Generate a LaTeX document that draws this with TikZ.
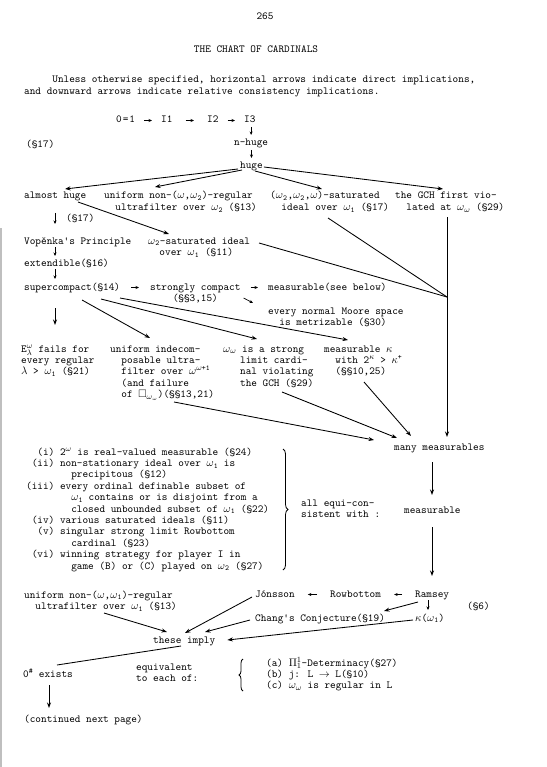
\documentclass[tikz,border=0pt]{standalone}
\usepackage{fontspec}
\usepackage{amssymb}
\usetikzlibrary{arrows.meta,decorations.pathreplacing}
\newcommand\chartfont{\ttfamily\fontsize{10.74pt}{11.4pt}\selectfont\addfontfeatures{FakeBold=1.2}}
% n character cells of the typewriter face
\newcommand\sk[1]{\hspace*{#1\dimexpr0.525em\relax}}
\newcommand\lo[1]{\textsubscript{#1}}
\newcommand\up[1]{\textsuperscript{#1}}
\newcommand\w{\ensuremath{\omega}}
\newcommand\kp{\ensuremath{\kappa}}
\newcommand\lm{\ensuremath{\lambda}}
% left-aligned lines whose baseline is that of the first line
\newcommand\stack[1]{\vtop{\halign{##\hfil\cr#1\crcr}}}
\tikzset{
  txt/.style={inner sep=0pt, anchor=base west, font=\chartfont},
  link/.style={line width=0.85pt, -{Stealth[length=5.5pt,width=4pt]}},
  tick/.style={line width=0.7pt, -{Stealth[length=3.5pt,width=3pt]}},
  trim/.style={shorten <=#1, shorten >=#1},
  plain/.style={line width=0.85pt},
  bracebar/.style={line width=0.8pt, decorate, decoration={brace, amplitude=#1}},
}
\begin{document}
\lineskiplimit=-20pt
\begin{tikzpicture}[x=1pt,y=-1pt]
\path[fill=white] (0,0) rectangle (546,767);
\useasboundingbox (0,0) rectangle (546,767);
% page edge
\draw[gray!50, line width=1.2pt] (1,228) -- (1,767);

% heading
\node[txt, anchor=base] (pgno) at (265,20) {265};
\node[txt, anchor=base] (title) at (256,53) {THE CHART OF CARDINALS};
\node[txt] (intro) at (24,83) {\stack{\sk{5}Unless otherwise specified, horizontal arrows indicate direct implications,\cr\noalign{\kern0.6pt}and downward arrows indicate relative consistency implications.}};

% top of the chart
\node[txt] (z01) at (116,123) {0\kern1pt=\kern1pt1};
\node[txt] (i1) at (161,123) {I1};
\node[txt] (i2) at (207,123) {I2};
\node[txt] (i3) at (244,123) {I3};
\node[txt] (nhuge) at (234,146) {n-huge};
\node[txt] (s17a) at (26,148) {(§17)};
\node[txt] (huge) at (240,169) {huge};

\draw[tick, trim=9pt] ([yshift=2.5pt]z01.base east) -- ([yshift=2.5pt]i1.base west);
\draw[tick, trim=13pt] ([yshift=2.5pt]i1.base east) -- ([yshift=2.5pt]i2.base west);
\draw[tick, trim=9pt] ([yshift=2.5pt]i2.base east) -- ([yshift=2.5pt]i3.base west);
\draw[tick] ([yshift=-4pt]nhuge.base |- i3.base) -- ([yshift=11pt]nhuge.base);
\draw[tick] ([yshift=-4pt]huge.base |- nhuge.base) -- ([yshift=11pt]huge.base);

% below huge
\node[txt] (ahuge) at (24,199) {almost huge};
\node[txt] (unw2) at (104,199) {\stack{uniform non-(\w,\w\lo{2})-regular\cr\sk{2}ultrafilter over \w\lo{2} (§13)}};
\node[txt] (sat) at (270,199) {\stack{(\w\lo{2},\w\lo{2},\w)-saturated\cr\sk{2}ideal over \w\lo{1} (§17)}};
\node[txt] (gch) at (395,199) {\stack{the GCH first vio-\cr\sk{2}lated at \w\lo{\w} (§29)}};

\draw[link] ([shift={(-2,0)}]huge.base west) -- ([shift={(41,-10)}]ahuge.base west);
\draw[link] ([shift={(2,1)}]huge.base west) -- ([shift={(51,-12)}]unw2.base west);
\draw[link] ([shift={(15,2)}]huge.base west) -- ([shift={(52,-10)}]sat.base west);
\draw[link] ([shift={(1,-2)}]huge.base east) -- ([shift={(48,-10)}]gch.base west);

\node[txt] (s17b) at (66,222) {(§17)};
\node[txt] (vop) at (24,244) {Vopěnka's Principle};
\node[txt] (w2sat) at (148,244) {\stack{\w\lo{2}-saturated ideal\cr\sk{2}over \w\lo{1} (§11)}};
\node[txt] (ext) at (24,266) {extendible(§16)};
\node[txt] (sc) at (24,290) {supercompact(§14)};
\node[txt] (strc) at (150,290) {\stack{strongly compact\cr\sk{4}(§§3,15)}};
\node[txt] (meas1) at (268,290) {measurable(see below)};
\node[txt] (moore) at (268,314) {\stack{every normal Moore space\cr\sk{2}is metrizable (§30)}};

\draw[tick] ([shift={(31,14)}]ahuge.base west) -- ([shift={(31,-20)}]vop.base west);
\draw[link] ([shift={(54,3)}]ahuge.base west) -- ([shift={(21,-10)}]w2sat.base west);
\draw[tick] ([shift={(31,3)}]vop.base west) -- ([shift={(31,-10)}]ext.base west);
\draw[tick] ([shift={(31,3)}]ext.base west) -- ([shift={(31,-11)}]sc.base west);
\draw[tick, trim=11pt] ([yshift=2.5pt]sc.base east) -- ([yshift=2.5pt]strc.base west);
\draw[tick, trim=10pt] ([yshift=2.5pt]strc.east |- sc.base) -- ([yshift=2.5pt]meas1.base west);
\draw[tick] ([shift={(3,8)}]strc.east |- sc.base) -- ([shift={(-15,-11)}]moore.base west);

% the right-hand trunk
\node[txt] (manym) at (394,450) {many measurables};
\coordinate (J) at (447,297);
\draw[link] ([shift={(52,18)}]gch.base west) -- ([shift={(53,-13)}]manym.base west);
\draw[plain] ([shift={(58,19)}]sat.base west) -- (J);
\draw[plain] ([shift={(111,-1)}]w2sat.base west) -- (J);

% consequences of supercompactness
\node[txt] (elam) at (21,352) {\stack{E$^\omega_\lambda$ fails for\cr every regular\cr \lm{} > \w\lo{1} (§21)}};
\node[txt] (uind) at (110,352) {\stack{uniform indecom-\cr\sk{2}posable ultra-\cr\sk{2}filter over \w\up{\w+1}\cr\sk{2}(and failure\cr\sk{2}of $\Box$\lo{\w\lo{\w}})(§§13,21)}};
\node[txt] (wstr) at (223,352) {\stack{\w\lo{\w} is a strong\cr\sk{3}limit cardi-\cr\sk{3}nal violating\cr\sk{3}the GCH (§29)}};
\node[txt] (mk) at (324,352) {\stack{measurable \kp\cr\sk{2}with 2\up{\kp} > \kp\up{+}\cr\sk{2}(§§10,25)}};

\draw[link] ([shift={(58,10)}]sc.base west) -- ([shift={(40,-14)}]uind.base west);
\draw[link] ([shift={(77,9)}]sc.base west) -- ([shift={(34,-13)}]wstr.base west);
\draw[link] ([shift={(96,8)}]sc.base west) -- ([shift={(24,-12)}]mk.base west);
\draw[link] ([shift={(31,18)}]sc.base west) -- ([shift={(34,-27)}]elam.base west);

\draw[link] ([shift={(64,50)}]uind.base west) -- ([shift={(-20,-10)}]manym.base west);
\draw[link] ([shift={(59,40)}]wstr.base west) -- ([shift={(3,-12)}]manym.base west);
\draw[link] ([shift={(40,30)}]mk.base west) -- ([shift={(17,-14)}]manym.base west);

% equiconsistency block
\node[txt] (list) at (26,455) {\stack{\sk{2}(i) 2\up{\w} is real-valued measurable (§24)\cr
\sk{1}(ii) non-stationary ideal over \w\lo{1} is\cr
\sk{8}precipitous (§12)\cr
(iii) every ordinal definable subset of\cr
\sk{8}\w\lo{1} contains or is disjoint from a\cr
\sk{8}closed unbounded subset of \w\lo{1} (§22)\cr
\sk{1}(iv) various saturated ideals (§11)\cr
\sk{2}(v) singular strong limit Rowbottom\cr
\sk{8}cardinal (§23)\cr
\sk{1}(vi) winning strategy for player I in\cr
\sk{8}game (B) or (C) played on \w\lo{2} (§27)}};
\draw[bracebar=5pt] (283,449) -- (283,570);
\node[txt] (equi) at (301,506) {\stack{all equi-con-\cr sistent with :}};
\node[txt] (meas2) at (404,513) {measurable};

% small large cardinals
\node[txt] (unw1) at (24,598) {\stack{uniform non-(\w,\w\lo{1})-regular\cr\sk{2}ultrafilter over \w\lo{1} (§13)}};
\node[txt] (jon) at (255,597) {Jónsson};
\node[txt] (rowb) at (330,597) {Rowbottom};
\node[txt] (ram) at (415,597) {Ramsey};
\node[txt] (s6) at (467,609) {(§6)};
\node[txt] (chang) at (255,621) {Chang's Conjecture(§19)};
\node[txt] (kap) at (415,621) {\kp(\w\lo{1})};
\node[txt] (these) at (153,643) {these imply};

\draw[link] ([shift={(38,12)}]manym.base west) -- ([shift={(28,-18)}]meas2.base west);
\draw[link] ([shift={(28,14)}]meas2.base west) -- ([shift={(17,-21)}]ram.base west);

\draw[tick, trim=13pt] ([yshift=2.5pt]rowb.base west) -- ([yshift=2.5pt]jon.base east);
\draw[tick, trim=13pt] ([yshift=2.5pt]ram.base west) -- ([yshift=2.5pt]rowb.base east);
\draw[tick] ([shift={(13,3)}]ram.base west) -- ([shift={(13,-11)}]kap.base west);
\draw[link] ([shift={(3,5)}]ram.base west) -- ([shift={(129,-10)}]chang.base west);
\draw[link] ([shift={(-3,0)}]jon.base west) -- ([shift={(32,-10)}]these.base west);
\draw[link] ([shift={(-5,-1)}]chang.base west) -- ([shift={(52,-11)}]these.base west);
\draw[link] ([shift={(-2,-1)}]kap.base west) -- ([shift={(12,-3)}]these.base east);
\draw[link] ([shift={(80,15)}]unw1.base west) -- ([shift={(14,-11)}]these.base west);

% zero sharp
\node[txt] (osharp) at (23,677) {0\up{\#} exists};
\node[txt] (equiv) at (136,670) {\stack{equivalent\cr to each of:}};
\draw[bracebar=4pt] (243,691) -- (243,659);
\node[txt] (abc) at (266,666) {\stack{(a) $\Pi^1_1$-Determinacy(§27)\cr(b) j: L $\rightarrow$ L(§10)\cr(c) \w\lo{\w} is regular in L}};
\node[txt] (cont) at (24,722) {(continued next page)};

\draw[plain] ([shift={(28,3)}]these.base west) -- ([shift={(34,-12)}]osharp.base west);
\draw[link] ([shift={(26,8)}]osharp.base west) -- ([shift={(25,-14)}]cont.base west);
\end{tikzpicture}
\end{document}
